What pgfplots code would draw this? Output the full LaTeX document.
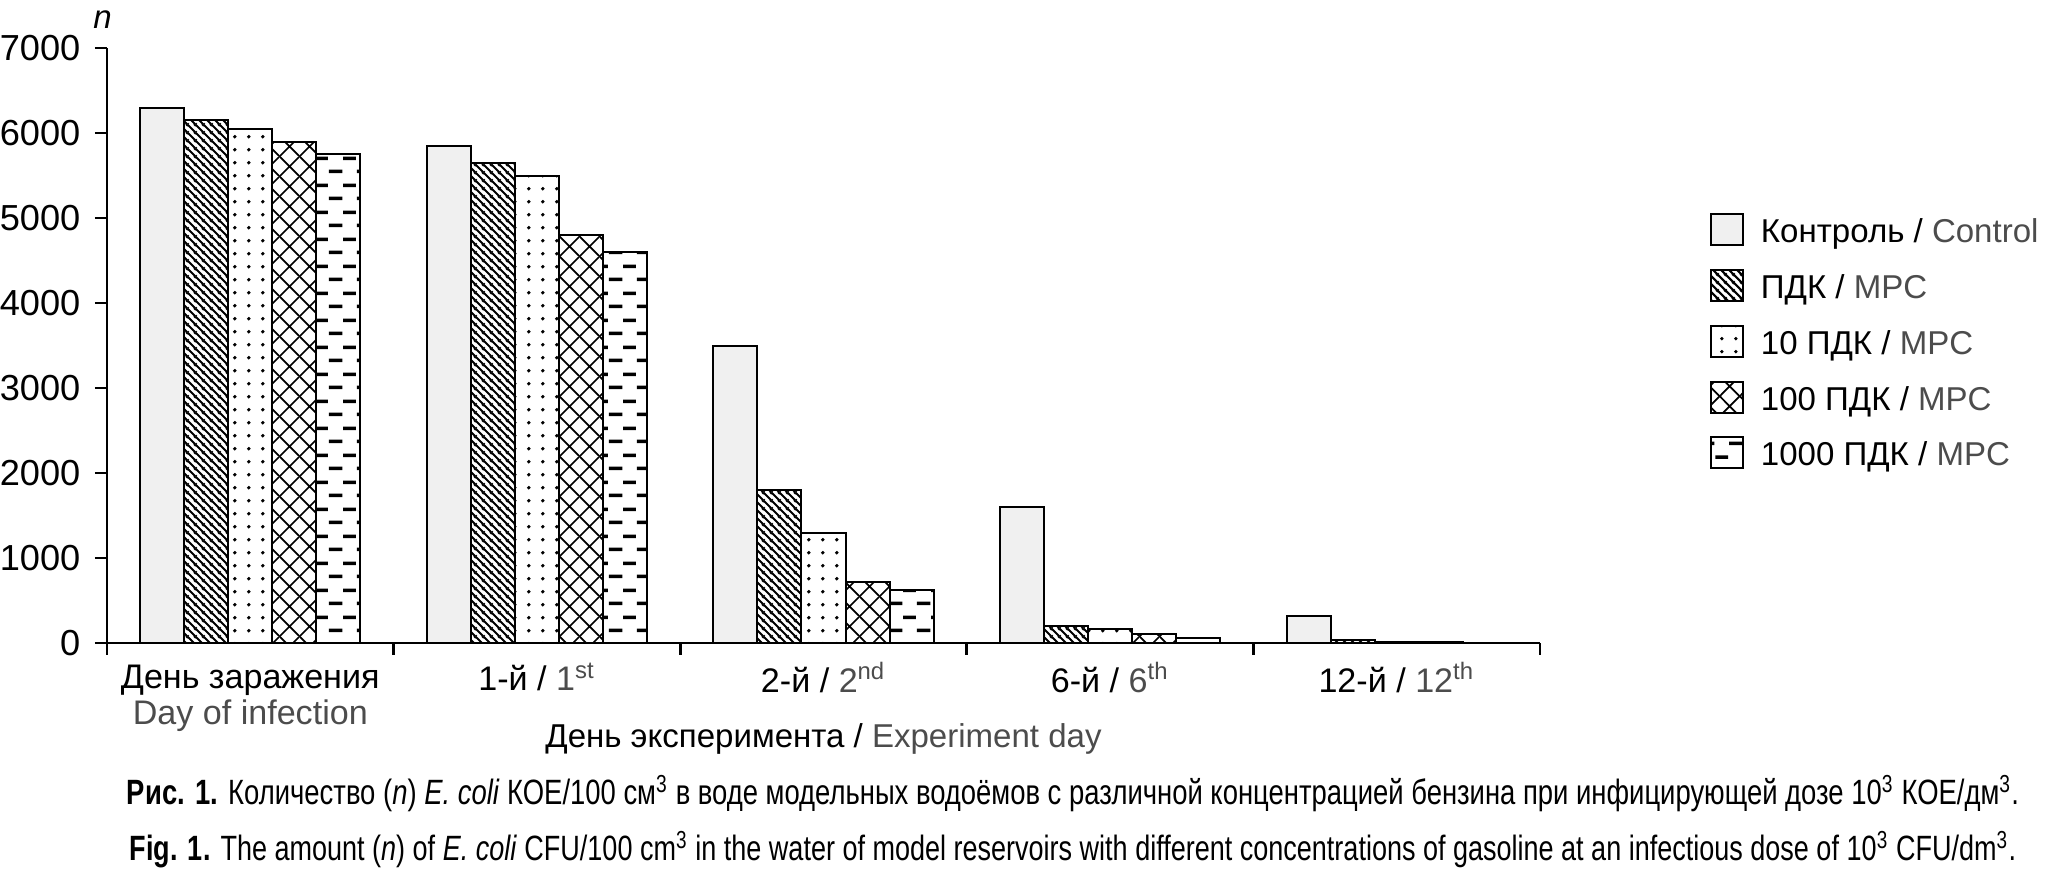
\documentclass[border=0pt]{standalone}
\usepackage{fontspec}
\setmainfont{Liberation Sans}
\usepackage{graphicx}
\usepackage{pgfplots}
\pgfplotsset{compat=1.18}
\usetikzlibrary{patterns.meta}

\definecolor{ctrl}{gray}{0.94}
\definecolor{engray}{gray}{0.3}
\newcommand{\lbl}{\fontsize{9.4}{10}\selectfont}
\newcommand{\fl}{\rule{0pt}{2.6mm}}

% hatchings of the bars
\pgfdeclarepattern{
  name=nwl, type=uncolored,
  bottom left={\pgfpoint{0mm}{0mm}}, top right={\pgfpoint{0.75mm}{0.75mm}},
  tile size={\pgfpoint{0.75mm}{0.75mm}},
  code={
    \pgfsetlinewidth{0.21mm}
    \pgfpathmoveto{\pgfpoint{-0.1mm}{0.1mm}}\pgfpathlineto{\pgfpoint{0.1mm}{-0.1mm}}
    \pgfpathmoveto{\pgfpoint{-0.1mm}{0.85mm}}\pgfpathlineto{\pgfpoint{0.85mm}{-0.1mm}}
    \pgfpathmoveto{\pgfpoint{0.65mm}{0.85mm}}\pgfpathlineto{\pgfpoint{0.85mm}{0.65mm}}
    \pgfusepath{stroke}
  }
}
\pgfdeclarepattern{
  name=dotg, type=uncolored,
  bottom left={\pgfpoint{0mm}{0mm}}, top right={\pgfpoint{1.43mm}{1.33mm}},
  tile size={\pgfpoint{1.43mm}{1.33mm}},
  code={
    \pgfpathcircle{\pgfpoint{0.715mm}{0.665mm}}{0.2mm}
    \pgfusepath{fill}
  }
}
\pgfdeclarepattern{
  name=xhatch, type=uncolored,
  bottom left={\pgfpoint{0mm}{0mm}}, top right={\pgfpoint{2mm}{2mm}},
  tile size={\pgfpoint{2mm}{2mm}},
  code={
    \pgfsetlinewidth{0.18mm}
    \pgfpathmoveto{\pgfpoint{-0.1mm}{-0.1mm}}\pgfpathlineto{\pgfpoint{2.1mm}{2.1mm}}
    \pgfpathmoveto{\pgfpoint{-0.1mm}{2.1mm}}\pgfpathlineto{\pgfpoint{2.1mm}{-0.1mm}}
    \pgfusepath{stroke}
  }
}
\pgfdeclarepattern{
  name=dashg, type=uncolored,
  bottom left={\pgfpoint{0mm}{0mm}}, top right={\pgfpoint{2.8mm}{2.66mm}},
  tile size={\pgfpoint{2.8mm}{2.66mm}},
  code={
    \pgfpathrectangle{\pgfpoint{-0.65mm}{0.49mm}}{\pgfpoint{1.3mm}{0.35mm}}
    \pgfpathrectangle{\pgfpoint{2.15mm}{0.49mm}}{\pgfpoint{1.3mm}{0.35mm}}
    \pgfpathrectangle{\pgfpoint{0.75mm}{1.82mm}}{\pgfpoint{1.3mm}{0.35mm}}
    \pgfusepath{fill}
  }
}

\begin{document}
\begin{tikzpicture}
\path[use as bounding box] (0,0) rectangle (204.7mm,-87.6mm);
\begin{axis}[
    at={(10.7mm,-64.3mm)}, anchor=south west,
    scale only axis, width=143.3mm, height=59.5mm,
    xmin=-0.5, xmax=4.5, ymin=0, ymax=7000,
    clip=false,
    axis x line*=bottom, axis y line*=left,
    axis line style={line width=0.8pt, black},
    tick align=outside,
    major tick length=1.2mm,
    tick style={line width=0.8pt, black},
    xtick={-0.5,0.5,...,4.5}, xticklabels={},
    extra x ticks={0,1,2,3,4},
    extra x tick labels={
        {\fl День заражения\\\textcolor{engray}{Day of infection}},
        {\fl 1-й / \textcolor{engray}{1\textsuperscript{st}}},
        {\fl 2-й / \textcolor{engray}{2\textsuperscript{nd}}},
        {\fl 6-й / \textcolor{engray}{6\textsuperscript{th}}},
        {\fl 12-й / \textcolor{engray}{12\textsuperscript{th}}}},
    extra x tick style={major tick length=0pt,
        tick label style={font=\fontsize{9.7}{10.2}\selectfont, align=center, anchor=north, inner sep=0pt, yshift=-1.9mm}},
    ytick={0,1000,...,7000},
    yticklabel style={font=\fontsize{10.3}{11}\selectfont, anchor=east, inner sep=0pt, xshift=-1.4mm},
    /pgf/number format/1000 sep={},
    /pgf/number format/assume math mode=true,
    xlabel={День эксперимента / \textcolor{engray}{Experiment day}},
    xlabel style={font=\lbl, at={(axis description cs:0.5,0)}, anchor=base, yshift=-10.5mm},
    ybar=0pt, bar width=4.4mm,
    legend image code/.code={\draw[#1] (0mm,-1.55mm) rectangle (3.2mm,1.55mm);},
    legend cell align=left,
    legend style={draw=none, fill=none, font=\lbl, inner sep=0pt, outer sep=0pt,
        at={(1.1186,0.7328)}, anchor=north west,
        row sep=0.975mm, column sep=1.7mm,
        nodes={inner sep=0pt, text height=3.6mm, text depth=1mm}},
]
\addplot[fill=ctrl, draw=black, line width=0.2mm]
    coordinates {(0,6300) (1,5850) (2,3500) (3,1600) (4,320)};
\addlegendentry{Контроль / \textcolor{engray}{Control}}
\addplot[pattern=nwl, pattern color=black, draw=black, line width=0.2mm]
    coordinates {(0,6150) (1,5650) (2,1800) (3,200) (4,40)};
\addlegendentry{ПДК / \textcolor{engray}{MPC}}
\addplot[pattern=dotg, pattern color=black, draw=black, line width=0.2mm]
    coordinates {(0,6050) (1,5500) (2,1290) (3,170) (4,15)};
\addlegendentry{10 ПДК / \textcolor{engray}{MPC}}
\addplot[pattern=xhatch, pattern color=black, draw=black, line width=0.2mm]
    coordinates {(0,5900) (1,4800) (2,720) (3,100) (4,8)};
\addlegendentry{100 ПДК / \textcolor{engray}{MPC}}
\addplot[pattern=dashg, pattern color=black, draw=black, line width=0.2mm]
    coordinates {(0,5750) (1,4600) (2,620) (3,60) (4,4)};
\addlegendentry{1000 ПДК / \textcolor{engray}{MPC}}

\node[anchor=base, font=\lbl\itshape, xshift=-0.45mm, yshift=2mm]
    at (axis description cs:0,1) {n};
\end{axis}

\node[anchor=base] at (107.3mm,-80.5mm) {\resizebox{189.2mm}{\height}{\fontsize{10}{11}\selectfont
  \textbf{Рис. 1.} Количество (\textit{n}) \textit{E. coli} КОЕ/100 см\textsuperscript{3} в воде модельных водоёмов с различной концентрацией бензина при инфицирующей дозе 10\textsuperscript{3} КОЕ/дм\textsuperscript{3}.}};
\node[anchor=base] at (107.3mm,-86.1mm) {\resizebox{188.6mm}{\height}{\fontsize{10}{11}\selectfont
  \textbf{Fig. 1.} The amount (\textit{n}) of \textit{E. coli} CFU/100 cm\textsuperscript{3} in the water of model reservoirs with different concentrations of gasoline at an infectious dose of 10\textsuperscript{3} CFU/dm\textsuperscript{3}.}};
\end{tikzpicture}
\end{document}
